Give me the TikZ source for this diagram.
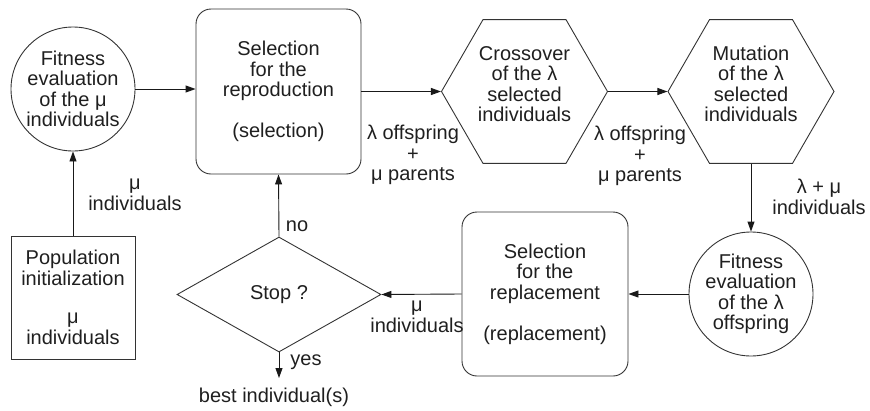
\documentclass[tikz,border=0pt]{standalone}
\usepackage{fontspec}
\setmainfont{Liberation Sans}
\usetikzlibrary{shapes.geometric,arrows.meta}
\begin{document}
\begin{tikzpicture}[x=1pt,y=-1pt,
  every node/.style={font=\fontsize{20}{20.5}\selectfont, text=black!88, align=center, inner sep=0pt},
  circ/.style={draw=black!80, line width=0.9pt, circle, minimum size=124pt},
  rbox/.style={draw=black!80, line width=0.9pt, rectangle, rounded corners=15pt, minimum width=165pt, minimum height=165pt},
  hexa/.style={draw=black!80, line width=0.9pt, regular polygon, regular polygon sides=6, minimum size=166pt},
  decide/.style={draw=black!80, line width=0.9pt, diamond, aspect=1.77, minimum width=204pt, minimum height=115pt},
  sbox/.style={draw=black!80, line width=0.9pt, rectangle, minimum width=124pt, minimum height=123pt},
  arr/.style={-{Triangle[length=10pt,width=7pt]}, line width=0.9pt, draw=black!90}
]
\useasboundingbox (0,0) rectangle (870,410);

\node[circ] (fit1) at (73,89) {Fitness\\evaluation\\of the μ\\individuals};
\node[rbox] (sel) at (278.5,91.5) {Selection\\for the\\reproduction\\[20.5pt](selection)};
\node[hexa] (cross) at (524.5,91.5) {};
\node (crossT) at (524.5,84) {Crossover\\of the λ\\selected\\individuals};
\node[hexa] (mut) at (751,91.5) {};
\node (mutT) at (751,84) {Mutation\\of the λ\\selected\\individuals};
\node[circ] (fit2) at (751,294) {Fitness\\evaluation\\of the λ\\offspring};
\node[rbox, minimum width=166pt, minimum height=164pt] (repl) at (545,294) {Selection\\for the\\replacement\\[20.5pt](replacement)};
\node[decide] (stop) at (279,294.5) {Stop ?};
\node[sbox] (pop) at (73,297.5) {Population\\initialization\\[18pt]μ\\individuals};

\coordinate (yesend) at (279,378);
\node (best) at (274,397) {best individual(s)};

\node (l1) at (413,155) {λ offspring\\+\\μ parents};
\node (l2) at (640,156) {λ offspring\\+\\μ parents};
\node (l3) at (819,197) {λ + μ\\individuals};
\node (l4) at (417,317) {μ\\individuals};
\node (l5) at (135,195) {μ\\individuals};
\node (l6) at (297,226) {no};
\node (l7) at (306,362) {yes};

\draw[arr] (fit1.east) -- (sel.west |- fit1.east);
\draw[arr] (sel.east) -- (cross.west);
\draw[arr] (cross.east) -- (mut.west);
\draw[arr] (mut.south) -- (fit2.north);
\draw[arr] (fit2.west) -- (repl.east);
\draw[arr] (repl.west) -- (stop.east);
\draw[arr] (stop.north) -- (sel.south);
\draw[arr] (stop.south) -- (yesend);
\draw[arr] (pop.north) -- (fit1.south);
\end{tikzpicture}
\end{document}
